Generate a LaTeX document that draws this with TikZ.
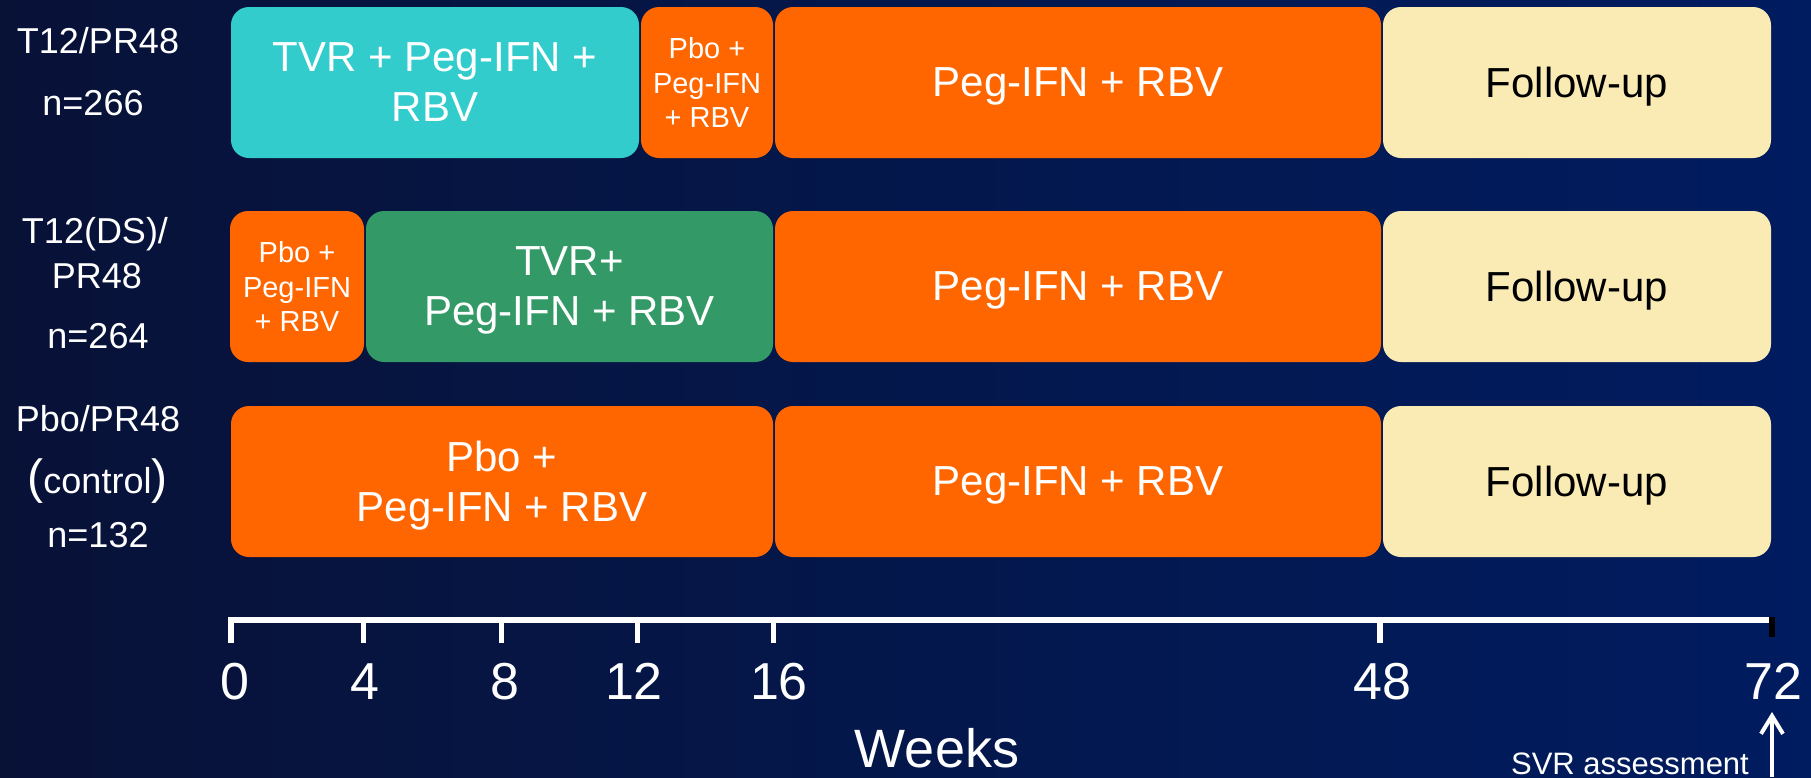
\documentclass[tikz,border=0pt]{standalone}
\usepackage{fontspec}
\setmainfont{Liberation Sans}
\usetikzlibrary{arrows.meta}
\definecolor{bgL}{RGB}{8,18,55}
\definecolor{bgR}{RGB}{0,28,96}
\definecolor{tvr}{RGB}{51,204,204}
\definecolor{prc}{RGB}{255,102,0}
\definecolor{dsg}{RGB}{51,153,102}
\definecolor{fup}{RGB}{250,235,180}
\begin{document}
\begin{tikzpicture}[x=0.5pt,y=-0.5pt,
  seg/.style={rounded corners=9pt, inner sep=0pt, outer sep=0pt, align=center, text=white,
    minimum height=75.5pt, text depth=0pt, font=\fontsize{21}{25}\selectfont},
  smalltxt/.style={font=\fontsize{14.5}{17.4}\selectfont},
  lbl/.style={text=white, align=center, font=\fontsize{18}{22}\selectfont, inner sep=0pt, anchor=base},
  tickline/.style={line width=2.7pt, white},
  num/.style={text=white, font=\fontsize{26}{30}\selectfont, inner sep=0pt, anchor=base}
]
\shade[left color=bgL, right color=bgR] (0,0) rectangle (1811,777);
\useasboundingbox (0,0) rectangle (1811,777);

% row 1
\node[seg, fill=tvr, minimum width=204pt] (r1a) at (435,82.5) {TVR + Peg-IFN +\\RBV};
\node[seg, smalltxt, fill=prc, minimum width=66pt] (r1b) at (707,82.5) {Pbo +\\Peg-IFN\\+ RBV};
\node[seg, fill=prc, minimum width=303pt] (r1c) at (1078,82.5) {Peg-IFN + RBV};
\node[seg, fill=fup, text=black, minimum width=194pt] (r1d) at (1577,82.5) {Follow-up};
% row 2
\node[seg, smalltxt, fill=prc, minimum width=67pt] (r2a) at (297,286.5) {Pbo +\\Peg-IFN\\+ RBV};
\node[seg, fill=dsg, minimum width=203.5pt] (r2b) at (569.5,286.5) {TVR+\\Peg-IFN + RBV};
\node[seg, fill=prc, minimum width=303pt] (r2c) at (1078,286.5) {Peg-IFN + RBV};
\node[seg, fill=fup, text=black, minimum width=194pt] (r2d) at (1577,286.5) {Follow-up};
% row 3
\node[seg, fill=prc, minimum width=271pt] (r3a) at (502,481.5) {Pbo +\\Peg-IFN + RBV};
\node[seg, fill=prc, minimum width=303pt] (r3c) at (1078,481.5) {Peg-IFN + RBV};
\node[seg, fill=fup, text=black, minimum width=194pt] (r3d) at (1577,481.5) {Follow-up};

% row labels
\node[lbl] (l1a) at (98,53) {T12/PR48};
\node[lbl] (l1b) at (93,115) {n=266};
\node[lbl] (l2a) at (95,243) {T12(DS)/};
\node[lbl] (l2b) at (97,288) {PR48};
\node[lbl] (l2c) at (98,348) {n=264};
\node[lbl] (l3a) at (98,431) {Pbo/PR48};
\node[lbl] (l3b) at (97.5,493) {{\fontsize{24}{24}\selectfont(}control{\fontsize{24}{24}\selectfont)}};
\node[lbl] (l3c) at (98,547) {n=132};

% axis
\coordinate (a0) at (231,620);
\coordinate (a0b) at (231,643);
\coordinate (aend) at (1770,620);
\draw[white, line width=2.75pt] (a0b) -- (a0) -- (aend);
\foreach \nm/\xx in {a4/363.5, a8/501.5, a12/637.5, a16/773.5, a48/1380}{
  \coordinate (\nm) at (\xx,620);
  \coordinate (\nm b) at (\xx,643);
  \draw[tickline] (\nm) -- (\nm b);
}
\coordinate (a72) at (1772,617);
\coordinate (a72b) at (1772,637);
\draw[black, line width=2.85pt] (a72) -- (a72b);

% tick labels
\node[num] (n0) at (235,699) {0};
\node[num] (n4) at (365,699) {4};
\node[num] (n8) at (505,699) {8};
\node[num] (n12) at (634,699) {12};
\node[num] (n16) at (779,699) {16};
\node[num] (n48) at (1382,699) {48};
\node[num] (n72) at (1773,699) {72};

\node[text=white, font=\fontsize{27}{30}\selectfont, inner sep=0pt, anchor=base] (weeks) at (937,767) {Weeks};
\node[text=white, font=\fontsize{15.5}{18}\selectfont, inner sep=0pt, anchor=base] (svr) at (1630,774) {SVR assessment};
\coordinate (svrfoot) at (1772,777);
\coordinate (svrtip) at (1772,712);
\draw[white, line width=2pt, -{Straight Barb[length=9pt,width=11pt]}] (svrfoot) -- (svrtip);
\end{tikzpicture}
\end{document}
